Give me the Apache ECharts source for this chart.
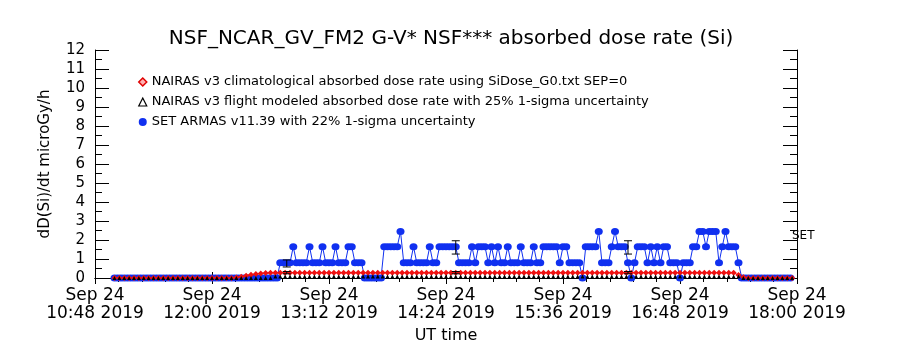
<!DOCTYPE html>
<html>
<head>
<meta charset="utf-8">
<script src="https://cdn.jsdelivr.net/npm/echarts@6/dist/echarts.min.js"></script>
<style>
  html, body { margin: 0; background: #fff; }
  #chart { width: 900px; height: 350px; }
</style>
</head>
<body>
<div id="chart"></div>
<script>
// times are minutes of the day (UT), Sep 24 2019
const axisStart = 648, axisEnd = 1080, axisStep = 72;
const yTicks = [0, 12];

// NAIRAS v3 climatological dose, one point every 3 min from 11:00
const climStart = 660, climStep = 3;
const climDose = [
  0,0,0,0,0,0,0,0,0,0, 0,0,0,0,0,0,0,0,0,0, 0,0,0,0,0,
  0.03,0.07,0.12,0.17,0.21,0.24,0.26,0.27,
  0.28,0.28,0.28,0.28,0.28,0.28,0.28,0.28,0.28,0.28,
  0.28,0.28,0.28,0.28,0.28,0.28,0.28,0.28,0.28,0.28,
  0.28,0.28,0.28,0.28,0.28,0.28,0.28,0.28,0.28,0.28,
  0.28,0.28,0.28,0.28,0.28,0.28,0.28,0.28,0.28,0.28,
  0.28,0.28,0.28,0.28,0.28,0.28,0.28,0.28,0.28,0.28,
  0.28,0.28,0.28,0.28,0.28,0.28,0.28,0.28,0.28,0.28,
  0.28,0.28,0.28,0.28,0.28,0.28,0.28,0.28,0.28,0.28,
  0.28,0.28,0.28,0.28,0.28,0.28,0.28,0.28,0.28,0.28,
  0.28,0.28,0.28,0.28,0.28,0.28,0.28,0.28,0.28,0.28,
  0.28,0.28,0.28,0.28,
  0.27,0.16,0.04,
  0,0,0,0,0,0,0,0,0,0
];

// NAIRAS v3 flight modeled dose, same sampling
const flightStart = 660, flightStep = 3;
const flightDose = [
  0,0,0,0,0,0,0,0,0,0, 0,0,0,0,0,0,0,0,0,0, 0,0,0,0,0, 0,0,0,0,0, 0,0,0,
  0.08,0.08,0.08,0.08,0.08,0.08,0.08,0.08,0.08,0.08,
  0.08,0.08,0.08,0.08,0.08,0.08,0.08,0.08,0.08,0.08,
  0.08,0.08,0.08,0.08,0.08,0.08,0.08,0.08,0.08,0.08,
  0.08,0.08,0.08,0.08,0.08,0.08,0.08,0.08,0.08,0.08,
  0.08,0.08,0.08,0.08,0.08,0.08,0.08,0.08,0.08,0.08,
  0.08,0.08,0.08,0.08,0.08,0.08,0.08,0.08,0.08,0.08,
  0.08,0.08,0.08,0.08,0.08,0.08,0.08,0.08,0.08,0.08,
  0.08,0.08,0.08,0.08,0.08,0.08,0.08,0.08,0.08,0.08,
  0.08,0.08,0.08,0.08,0.08,0.08,0.08,0.08,0.08,0.08,
  0.08,0.08,0.08,0.08,0.08,0.08,
  0,0,0,0,0,0,0,0,0,0, 0
];

// SET ARMAS v11.39 dose, one point every 2 min from 11:00
const setStart = 660, setStep = 2;
const setDose = [
  0,0,0,0,0,0,0,0,0,0, 0,0,0,0,0,0,0,0,0,0, 0,0,0,0,0,0,0,0,0,0,
  0,0,0,0,0,0,0,0,0,0, 0,0,0,0,0,0,0,0,0,0, 0,
  0.8,0.8,0.8,0.8,1.65,0.8,0.8,0.8,0.8,1.65,
  0.8,0.8,0.8,1.65,0.8,0.8,0.8,1.65,0.8,0.8,
  0.8,1.65,1.65,0.8,0.8,0.8,0,0,0,0,
  0,0,1.65,1.65,1.65,1.65,1.65,2.45,0.8,0.8,
  0.8,1.65,0.8,0.8,0.8,0.8,1.65,0.8,0.8,1.65,
  1.65,1.65,1.65,1.65,1.65,0.8,0.8,0.8,0.8,1.65,
  0.8,1.65,1.65,1.65,0.8,1.65,0.8,1.65,0.8,0.8,
  1.65,0.8,0.8,0.8,1.65,0.8,0.8,0.8,1.65,0.8,
  0.8,1.65,1.65,1.65,1.65,1.65,0.8,1.65,1.65,0.8,
  0.8,0.8,0.8,0,1.65,1.65,1.65,1.65,2.45,0.8,
  0.8,0.8,1.65,2.45,1.65,1.65,1.65,0.8,0,0.8,
  1.65,1.65,1.65,0.8,1.65,0.8,1.65,0.8,1.65,1.65,
  0.8,0.8,0.8,0,0.8,0.8,0.8,1.65,1.65,2.45,
  2.45,1.65,2.45,2.45,2.45,0.8,1.65,2.45,1.65,1.65,
  1.65,0.8,
  0,0,0,0,0,0,0,0,0,0,0,0,0,0,0,0
];

// error bars
const errTimes = [766, 870, 976];
const setLow  = [0.58, 1.26, 1.26];
const setHigh = [0.95, 1.96, 1.96];
const climLow  = [0.22, 0.22, 0.22];
const climHigh = [0.34, 0.34, 0.34];

const FONT = 'DejaVu Sans';
const nameClim = 'NAIRAS v3 climatological absorbed dose rate using SiDose_G0.txt SEP=0';
const nameFlight = 'NAIRAS v3 flight modeled absorbed dose rate with 25% 1-sigma uncertainty';
const nameSet = 'SET ARMAS v11.39 with 22% 1-sigma uncertainty';

function pad(n) { return (n < 10 ? '0' : '') + n; }
function timeLabel(v) {
  const h = Math.floor(v / 60), m = Math.round(v % 60);
  return 'Sep 24\n' + pad(h) + ':' + pad(m) + ' 2019';
}

function toPairs(start, step, arr) {
  return arr.map((v, i) => [start + i * step, v]);
}

function errorBar(params, api) {
  const lo = api.coord([api.value(0), api.value(1)]);
  const hi = api.coord([api.value(0), api.value(2)]);
  const w = 4;
  const st = { stroke: '#000', lineWidth: 1 };
  return {
    type: 'group',
    children: [
      { type: 'line', shape: { x1: lo[0], y1: lo[1], x2: hi[0], y2: hi[1] }, style: st },
      { type: 'line', shape: { x1: lo[0] - w, y1: lo[1], x2: lo[0] + w, y2: lo[1] }, style: st },
      { type: 'line', shape: { x1: hi[0] - w, y1: hi[1], x2: hi[0] + w, y2: hi[1] }, style: st }
    ]
  };
}

const chart = echarts.init(document.getElementById('chart'), null, { renderer: 'canvas' });

const axisLine = { show: true, lineStyle: { color: '#000', width: 1 } };

const option = {
  animation: false,
  backgroundColor: '#fff',
  title: {
    text: 'NSF_NCAR_GV_FM2 G-V* NSF*** absorbed dose rate (Si)',
    left: 446, top: 24, textAlign: 'center',
    textStyle: { fontFamily: FONT, fontSize: 20, fontWeight: 'normal', color: '#000' }
  },
  legend: {
    orient: 'vertical', left: 133, top: 70,
    itemGap: 6, itemWidth: 8, itemHeight: 8,
    selectedMode: false,
    textStyle: { fontFamily: FONT, fontSize: 13, color: '#000', lineHeight: 14 },
    data: [
      { name: nameClim, icon: 'diamond', itemStyle: { color: '#ffb0b0', borderColor: '#e00000', borderWidth: 1.5 } },
      { name: nameFlight, icon: 'triangle', itemStyle: { color: '#fff', borderColor: '#000', borderWidth: 1.2 } },
      { name: nameSet, icon: 'circle', itemStyle: { color: '#1030f0' } }
    ]
  },
  grid: { left: 95, right: 103, top: 50, bottom: 72, containLabel: false, outerBoundsMode: 'none' },
  xAxis: [
    {
      type: 'value', position: 'bottom',
      min: axisStart, max: axisEnd, interval: axisStep,
      axisLine: axisLine,
      axisTick: { show: true, inside: true, length: 6, lineStyle: { color: '#000' } },
      splitLine: { show: false },
      axisLabel: {
        formatter: timeLabel, margin: 9, lineHeight: 18,
        fontFamily: FONT, fontSize: 17, color: '#000'
      },
      name: 'UT time', nameLocation: 'middle', nameGap: 47,
      nameTextStyle: { fontFamily: FONT, fontSize: 16, color: '#000' }
    },
    {
      type: 'value', position: 'top',
      min: axisStart, max: axisEnd, interval: axisStep,
      axisLine: axisLine,
      axisTick: { show: true, inside: true, length: 6, lineStyle: { color: '#000' } },
      minorTick: { show: true, splitNumber: 5, length: 4, lineStyle: { color: '#000' } },
      splitLine: { show: false },
      axisLabel: { show: false }
    }
  ],
  yAxis: [
    {
      type: 'value', position: 'left',
      min: yTicks[0], max: yTicks[1], interval: 1,
      axisLine: axisLine,
      axisTick: { show: true, inside: true, length: 14, lineStyle: { color: '#000' } },
      minorTick: { show: true, splitNumber: 2, length: 7, lineStyle: { color: '#000' } },
      splitLine: { show: false },
      axisLabel: { margin: 10, fontFamily: FONT, fontSize: 15, color: '#000' },
      name: 'dD(Si)/dt microGy/h', nameLocation: 'middle', nameGap: 42,
      nameTextStyle: { fontFamily: FONT, fontSize: 15, color: '#000' }
    },
    {
      type: 'value', position: 'right',
      min: yTicks[0], max: yTicks[1], interval: 1,
      axisLine: axisLine,
      axisTick: { show: true, inside: true, length: 14, lineStyle: { color: '#000' } },
      minorTick: { show: true, splitNumber: 2, length: 7, lineStyle: { color: '#000' } },
      splitLine: { show: false },
      axisLabel: { show: false }
    }
  ],
  graphic: [
    {
      type: 'text', left: 792, top: 230,
      style: { text: 'SET', fontFamily: FONT, fontSize: 12, fill: '#000' }
    }
  ],
  series: [
    {
      name: nameSet, type: 'line',
      data: toPairs(setStart, setStep, setDose),
      symbol: 'circle', symbolSize: [8, 7],
      itemStyle: { color: '#1030f0' },
      lineStyle: { color: '#1030f0', width: 1 },
      z: 2
    },
    {
      name: nameClim, type: 'line',
      data: toPairs(climStart, climStep, climDose),
      symbol: 'diamond', symbolSize: 6,
      itemStyle: { color: '#f01010' },
      lineStyle: { color: '#f01010', width: 1 },
      z: 3
    },
    {
      name: nameFlight, type: 'line',
      data: toPairs(flightStart, flightStep, flightDose),
      symbol: 'triangle', symbolSize: 4,
      itemStyle: { color: '#000' },
      lineStyle: { width: 0 },
      z: 4
    },
    {
      type: 'custom', name: 'set err',
      renderItem: errorBar,
      encode: { x: 0, y: [1, 2] },
      data: errTimes.map((t, i) => [t, setLow[i], setHigh[i]]),
      z: 5
    },
    {
      type: 'custom', name: 'clim err',
      renderItem: errorBar,
      encode: { x: 0, y: [1, 2] },
      data: errTimes.map((t, i) => [t, climLow[i], climHigh[i]]),
      z: 5
    }
  ]
};

chart.setOption(option);
</script>
</body>
</html>
